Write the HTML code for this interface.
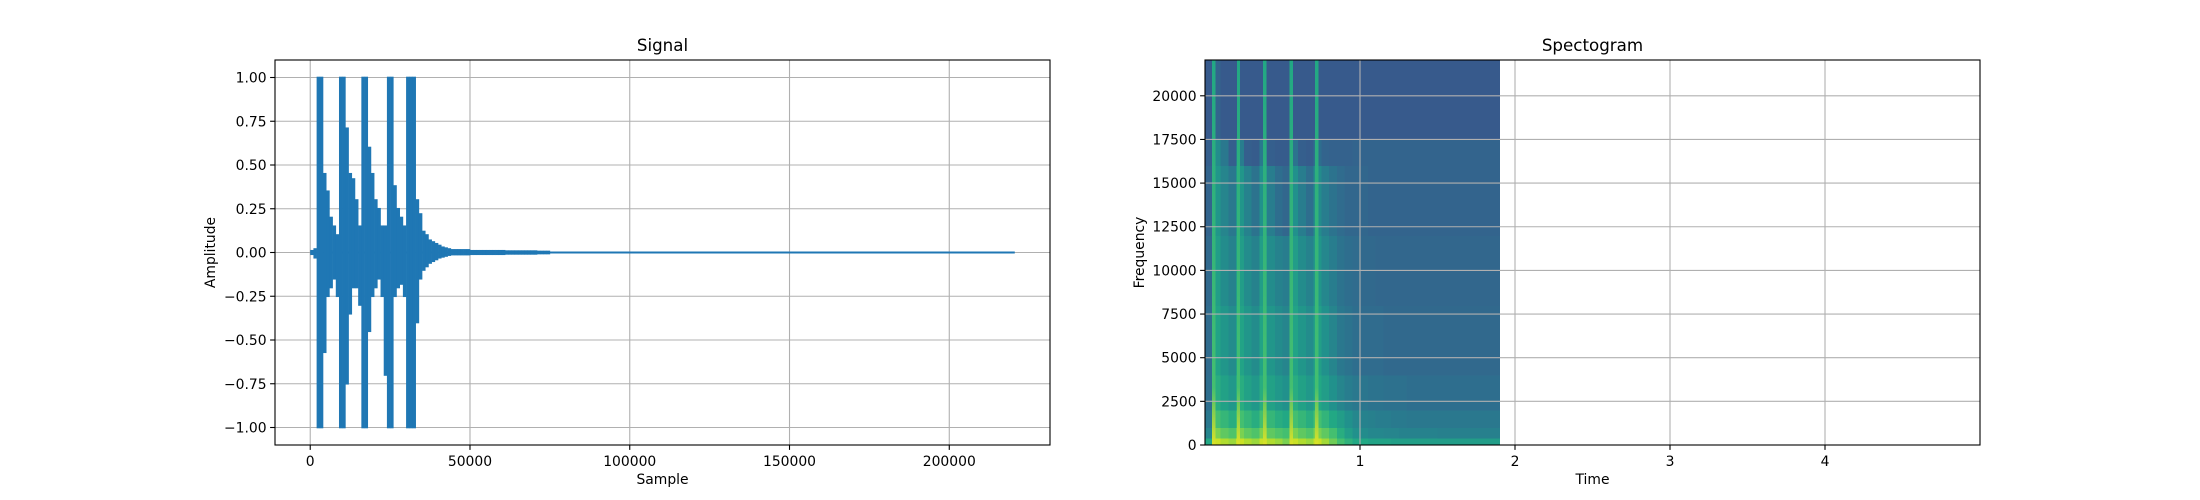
<!DOCTYPE html>
<html><head><meta charset="utf-8"><style>
html,body{margin:0;padding:0;background:#fff;}
svg{display:block;font-family:"DejaVu Sans","Liberation Sans",sans-serif;}
</style></head><body>
<svg id="fig" width="2200" height="500" xmlns="http://www.w3.org/2000/svg"></svg>
<script>
// ---------- Signal data (per 1000-sample bins) ----------
const sigBinSize = 1000;
const sigMax = [.01,.02,1,1,.45,.35,.2,.15,.1,1,1,.71,.45,.42,.3,.15,1,1,.6,.45,.3,.25,.15,.15,1,1,.38,.25,.2,.15,1,1,1,.3,.22,.12,.1,.07,.06,.05,.04,.03,.025,.02,.015,.015,.015,.015,.015,.015,.01,.01,.01,.01,.01,.01,.01,.01,.01,.01,.01,.008,.008,.008,.008,.008,.008,.008,.008,.008,.008,.006,.006,.006,.006];
const sigMin = [-.01,-.03,-1,-1,-.57,-.25,-.2,-.15,-.25,-1,-1,-.75,-.35,-.2,-.2,-.3,-1,-1,-.45,-.25,-.2,-.15,-.25,-.7,-1,-1,-.25,-.2,-.18,-.25,-1,-1,-1,-.4,-.15,-.1,-.08,-.06,-.05,-.04,-.03,-.025,-.02,-.015,-.012,-.012,-.012,-.012,-.012,-.012,-.01,-.01,-.01,-.01,-.01,-.01,-.01,-.01,-.01,-.01,-.01,-.008,-.008,-.008,-.008,-.008,-.008,-.008,-.008,-.008,-.008,-.006,-.006,-.006,-.006];
const sigLength = 220500;
const sigXTicks = [0,50000,100000,150000,200000];
const sigYTicks = [-1,-0.75,-0.5,-0.25,0,0.25,0.5,0.75,1];
const sigYTickLabels = ["\u22121.00","\u22120.75","\u22120.50","\u22120.25","0.00","0.25","0.50","0.75","1.00"];

// ---------- Spectrogram data ----------
const specColWidth = 0.05; // seconds per column
const specBandEdges = [0,400,1000,2000,4000,8000,12000,16000,17500,22050];
const specB0 = [.6,.92,.88,.85,.92,.88,.85,.92,.88,.85,.8,.92,.88,.85,.92,.86,.78,.7,.64,.6,.6,.58,.58,.58,.56,.56,.56,.56,.56,.55,.55,.55,.55,.55,.55,.55,.55,.55];
const specB1 = [.45,.8,.75,.72,.8,.75,.72,.8,.75,.72,.7,.8,.75,.72,.8,.75,.7,.62,.55,.5,.48,.46,.46,.45,.45,.44,.44,.44,.44,.44,.43,.43,.43,.43,.43,.43,.43,.43];
const specB2 = [.4,.7,.66,.62,.7,.66,.62,.7,.66,.62,.6,.7,.66,.62,.7,.65,.6,.55,.5,.46,.44,.43,.42,.42,.41,.41,.4,.4,.4,.4,.4,.4,.4,.4,.4,.4,.4,.4];
const specB3 = [.36,.62,.57,.53,.62,.57,.53,.62,.57,.53,.5,.62,.57,.53,.6,.55,.5,.45,.42,.4,.39,.38,.38,.37,.37,.37,.36,.36,.36,.36,.36,.36,.36,.36,.36,.36,.36,.36];
const specB4 = [.35,.58,.52,.48,.58,.52,.48,.58,.52,.48,.45,.58,.52,.48,.56,.5,.45,.4,.38,.36,.35,.35,.35,.34,.34,.34,.34,.34,.34,.34,.34,.34,.34,.34,.34,.34,.34,.34];
const specB5 = [.34,.55,.48,.44,.55,.48,.44,.55,.48,.44,.42,.55,.48,.44,.52,.46,.42,.38,.36,.35,.34,.34,.33,.33,.33,.33,.33,.33,.33,.33,.33,.33,.33,.33,.33,.33,.33,.33];
const specB6 = [.32,.52,.45,.4,.52,.44,.38,.5,.42,.36,.33,.5,.42,.36,.48,.42,.38,.35,.33,.33,.33,.32,.32,.32,.32,.32,.32,.32,.32,.32,.32,.32,.32,.32,.32,.32,.32,.32];
const specB7 = [.3,.48,.4,.3,.42,.3,.29,.4,.3,.29,.29,.38,.3,.29,.36,.32,.31,.31,.31,.32,.32,.32,.32,.32,.32,.32,.32,.32,.32,.32,.32,.32,.32,.32,.32,.32,.32,.32];
const specB8 = [.28,.32,.28,.28,.28,.28,.28,.28,.28,.28,.28,.28,.28,.28,.28,.28,.28,.28,.28,.28,.28,.28,.28,.28,.28,.28,.28,.28,.28,.28,.28,.28,.28,.28,.28,.28,.28,.28];
const specOnsets = [0.045,0.205,0.375,0.545,0.71];
const specOnsetWidth = 0.022;
const specXTicks = [1,2,3,4];
const specYTicks = [0,2500,5000,7500,10000,12500,15000,17500,20000];

// ---------- helpers ----------
const NS = "http://www.w3.org/2000/svg";
const svg = document.getElementById('fig');
function mk(tag, attrs, parent){const e=document.createElementNS(NS,tag);for(const k in attrs)e.setAttribute(k,attrs[k]);(parent||svg).appendChild(e);return e;}
const VIR = [[0,68,1,84],[.1,72,36,117],[.2,65,68,135],[.3,53,95,141],[.4,42,120,142],[.5,33,145,140],[.6,34,168,132],[.7,68,191,112],[.8,122,209,81],[.9,189,223,38],[1,253,231,37]];
function viridis(v){v=Math.max(0,Math.min(1,v));for(let i=1;i<VIR.length;i++){if(v<=VIR[i][0]){const a=VIR[i-1],b=VIR[i],f=(v-a[0])/(b[0]-a[0]);return `rgb(${Math.round(a[1]+f*(b[1]-a[1]))},${Math.round(a[2]+f*(b[2]-a[2]))},${Math.round(a[3]+f*(b[3]-a[3]))})`;}}}
const GRID = "#b0b0b0";
function fmt(n){return String(n);}

// ---------- Axes 1: Signal ----------
const A1 = {l:275,r:1050,t:60,b:445};
const sx = v => A1.l + (v - (-11025)) / (231525 + 11025) * (A1.r - A1.l);
const sy = v => A1.b - (v + 1.1) / 2.2 * (A1.b - A1.t);
const g1 = mk('g',{});  
const grid1 = mk('g',{},g1);  
sigXTicks.forEach(v=>mk('line',{x1:sx(v),x2:sx(v),y1:A1.t,y2:A1.b,stroke:GRID,'stroke-width':1.1},grid1));
sigYTicks.forEach(v=>mk('line',{x1:A1.l,x2:A1.r,y1:sy(v),y2:sy(v),stroke:GRID,'stroke-width':1.1},grid1));
const wave = mk('g',{fill:'#1f77b4'},g1);  
mk('line',{x1:sx(0),x2:sx(sigLength),y1:sy(0),y2:sy(0),stroke:'#1f77b4','stroke-width':2.1},wave);
sigMax.forEach((mx,i)=>{const mn=sigMin[i];const x0=sx(i*sigBinSize),x1=sx((i+1)*sigBinSize);const y0=sy(mx),y1=sy(mn);
 const r=mk('rect',{x:x0,y:y0-0.8,width:x1-x0+0.3,height:(y1-y0)+1.6},wave);
  });
mk('rect',{x:A1.l,y:A1.t,width:A1.r-A1.l,height:A1.b-A1.t,fill:'none',stroke:'#000','stroke-width':1.1},g1);
const xt1 = mk('g',{'font-size':'13.9px','text-anchor':'middle'},g1);  
sigXTicks.forEach(v=>{mk('line',{x1:sx(v),x2:sx(v),y1:A1.b,y2:A1.b+4.9,stroke:'#000','stroke-width':1.1},xt1);const t=mk('text',{x:sx(v),y:A1.b+21},xt1);t.textContent=fmt(v);});
const yt1 = mk('g',{'font-size':'13.9px','text-anchor':'end'},g1);  
sigYTicks.forEach((v,i)=>{mk('line',{x1:A1.l-4.9,x2:A1.l,y1:sy(v),y2:sy(v),stroke:'#000','stroke-width':1.1},yt1);const t=mk('text',{x:A1.l-8.4,y:sy(v)+5},yt1);t.textContent=sigYTickLabels[i];});
let t;
t=mk('text',{x:(A1.l+A1.r)/2,y:51,'font-size':'16.7px','text-anchor':'middle'},g1);t.textContent='Signal';
t=mk('text',{x:(A1.l+A1.r)/2,y:484,'font-size':'13.9px','text-anchor':'middle'},g1);t.textContent='Sample';
t=mk('text',{x:0,y:0,'font-size':'13.9px','text-anchor':'middle',transform:`translate(215,${(A1.t+A1.b)/2}) rotate(-90)`},g1);t.textContent='Amplitude';

// ---------- Axes 2: Spectrogram ----------
const A2 = {l:1205,r:1980,t:60,b:445};
const px = v => A2.l + v / 5 * (A2.r - A2.l);
const py = v => A2.b - v / 22050 * (A2.b - A2.t);
const g2 = mk('g',{});  
const img = mk('g',{'shape-rendering':'crispEdges'},g2);  
const bands=[specB0,specB1,specB2,specB3,specB4,specB5,specB6,specB7,specB8];
bands.forEach((row,b)=>{row.forEach((v,c)=>{const x0=px(c*specColWidth),x1=px((c+1)*specColWidth);const y0=py(specBandEdges[b+1]),y1=py(specBandEdges[b]);
 const r=mk('rect',{x:x0,y:y0,width:x1-x0+0.5,height:y1-y0+0.5,fill:viridis(v)},img);
  });});
const defs=mk('defs',{});
const lg=mk('linearGradient',{id:'stripe',x1:0,y1:0,x2:0,y2:1},defs);
mk('stop',{offset:'0','stop-color':viridis(.6)},lg);mk('stop',{offset:'0.85','stop-color':viridis(.7)},lg);mk('stop',{offset:'1','stop-color':viridis(.95)},lg);
specOnsets.forEach(o=>{const r=mk('rect',{x:px(o),y:A2.t,width:px(o+specOnsetWidth)-px(o),height:A2.b-A2.t,fill:'url(#stripe)'},img);
  });
const grid2 = mk('g',{},g2);  
specXTicks.forEach(v=>mk('line',{x1:px(v),x2:px(v),y1:A2.t,y2:A2.b,stroke:GRID,'stroke-width':1.1},grid2));
specYTicks.forEach(v=>mk('line',{x1:A2.l,x2:A2.r,y1:py(v),y2:py(v),stroke:GRID,'stroke-width':1.1},grid2));
mk('rect',{x:A2.l,y:A2.t,width:A2.r-A2.l,height:A2.b-A2.t,fill:'none',stroke:'#000','stroke-width':1.1},g2);
const xt2 = mk('g',{'font-size':'13.9px','text-anchor':'middle'},g2);  
specXTicks.forEach(v=>{mk('line',{x1:px(v),x2:px(v),y1:A2.b,y2:A2.b+4.9,stroke:'#000','stroke-width':1.1},xt2);const tt=mk('text',{x:px(v),y:A2.b+21},xt2);tt.textContent=fmt(v);});
const yt2 = mk('g',{'font-size':'13.9px','text-anchor':'end'},g2);  
specYTicks.forEach(v=>{mk('line',{x1:A2.l-4.9,x2:A2.l,y1:py(v),y2:py(v),stroke:'#000','stroke-width':1.1},yt2);const tt=mk('text',{x:A2.l-8.4,y:py(v)+5},yt2);tt.textContent=fmt(v);});
t=mk('text',{x:(A2.l+A2.r)/2,y:51,'font-size':'16.7px','text-anchor':'middle'},g2);t.textContent='Spectogram';
t=mk('text',{x:(A2.l+A2.r)/2,y:484,'font-size':'13.9px','text-anchor':'middle'},g2);t.textContent='Time';
t=mk('text',{x:0,y:0,'font-size':'13.9px','text-anchor':'middle',transform:`translate(1144,${(A2.t+A2.b)/2}) rotate(-90)`},g2);t.textContent='Frequency';
</script>
</body></html>
